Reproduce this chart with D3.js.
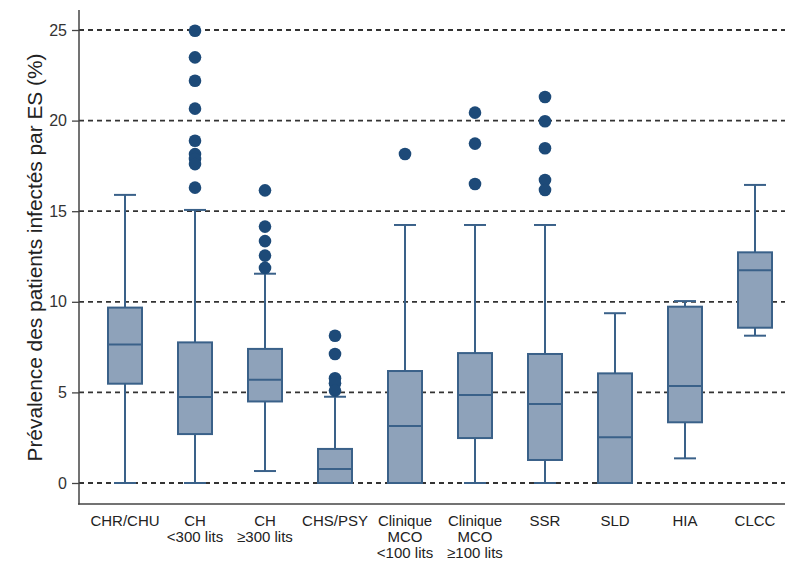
<!DOCTYPE html>
<html><head><meta charset="utf-8">
<script src="https://cdn.jsdelivr.net/npm/d3@7"></script>
<style>body{margin:0;background:#fff}svg{display:block;font-family:"Liberation Sans",Arial,sans-serif}</style>
</head><body><svg id="c" width="785" height="561"></svg>
<script>
const categories = ["CHR/CHU","CH\n<300 lits","CH\n≥300 lits","CHS/PSY","Clinique\nMCO\n<100 lits","Clinique\nMCO\n≥100 lits","SSR","SLD","HIA","CLCC"];
const whiskerLow = [0, 0, 0.66, 0, 0, 0, 0, 0, 1.36, 8.13];
const q1 =        [5.48, 2.7, 4.5, 0, 0, 2.48, 1.27, 0, 3.35, 8.57];
const median =    [7.65, 4.75, 5.7, 0.77, 3.15, 4.86, 4.36, 2.52, 5.35, 11.74];
const q3 =        [9.68, 7.76, 7.4, 1.88, 6.18, 7.17, 7.12, 6.05, 9.73, 12.73];
const whiskerHigh = [15.9, 15.07, 11.55, 4.76, 14.24, 14.24, 14.24, 9.37, 10.04, 16.45];
const outliers = [
  [],
  [24.96, 23.49, 22.2, 20.66, 18.89, 18.15, 17.88, 17.6, 16.3],
  [16.15, 14.15, 13.35, 12.55, 11.87],
  [8.13, 7.12, 5.78, 5.5, 5.1],
  [18.16],
  [20.44, 18.73, 16.5],
  [21.3, 19.96, 18.47, 16.72, 16.17],
  [], [], []
];
const yTicks = [0, 5, 10, 15, 20, 25];

const svg = d3.select("#c");
const x = d3.scaleBand().domain(categories).range([90, 790]);
const y = d3.scaleLinear().domain([0, 25]).range([483, 30]);
const boxW = 34, capW = 22;
const stroke = "#3a6189", fill = "#8ea2ba", dot = "#1d4a78";

// gridlines
svg.append("g").selectAll("line").data(yTicks).join("line")
  .attr("x1", 79).attr("x2", 785)
  .attr("y1", d => y(d)).attr("y2", d => y(d))
  .attr("stroke", "#333").attr("stroke-width", 1.8).attr("stroke-dasharray", "5,4");

// axes
const yAxis = svg.append("g").attr("transform", "translate(79,0)")
  .call(d3.axisLeft(y).tickValues(yTicks).tickSize(7).tickPadding(5));
yAxis.select(".domain").remove();
yAxis.selectAll("line").attr("stroke", "#444").attr("stroke-width", 1.3);
yAxis.selectAll("text").attr("font-size", 16).attr("fill", "#333").attr("font-family", "Liberation Sans, Arial, sans-serif");
svg.append("line").attr("x1", 79).attr("x2", 79).attr("y1", 10).attr("y2", 504.5).attr("stroke", "#444").attr("stroke-width", 1.5);
svg.append("line").attr("x1", 78).attr("x2", 785).attr("y1", 504).attr("y2", 504).attr("stroke", "#444").attr("stroke-width", 1.5);

// y title
svg.append("text").attr("transform", "translate(42,257.5) rotate(-90)")
  .attr("text-anchor", "middle").attr("font-size", 21).attr("fill", "#222")
  .attr("textLength", 408).attr("lengthAdjust", "spacingAndGlyphs")
  .text("Prévalence des patients infectés par ES (%)");

// x labels
const xl = svg.append("g").selectAll("text").data(categories).join("text")
  .attr("x", d => x(d) + x.bandwidth() / 2).attr("y", 526)
  .attr("text-anchor", "middle").attr("font-size", 15).attr("fill", "#222");
xl.selectAll("tspan").data(d => d.split("\n")).join("tspan")
  .attr("x", function() { return d3.select(this.parentNode).attr("x"); })
  .attr("dy", (d, i) => i === 0 ? 0 : 16).text(d => d);

// boxes
const g = svg.append("g").selectAll("g").data(categories).join("g")
  .attr("transform", d => `translate(${x(d) + x.bandwidth() / 2},0)`);
g.append("line").attr("x1", 0).attr("x2", 0)
  .attr("y1", (d, i) => y(whiskerHigh[i])).attr("y2", (d, i) => y(q3[i]))
  .attr("stroke", stroke).attr("stroke-width", 2);
g.append("line").attr("x1", 0).attr("x2", 0)
  .attr("y1", (d, i) => y(q1[i])).attr("y2", (d, i) => y(whiskerLow[i]))
  .attr("stroke", stroke).attr("stroke-width", 2);
g.append("line").attr("x1", -capW / 2).attr("x2", capW / 2)
  .attr("y1", (d, i) => y(whiskerHigh[i])).attr("y2", (d, i) => y(whiskerHigh[i]))
  .attr("stroke", stroke).attr("stroke-width", 2);
g.append("line").attr("x1", -capW / 2).attr("x2", capW / 2)
  .attr("y1", (d, i) => y(whiskerLow[i])).attr("y2", (d, i) => y(whiskerLow[i]))
  .attr("stroke", stroke).attr("stroke-width", 2);
g.append("rect").attr("x", -boxW / 2).attr("width", boxW)
  .attr("y", (d, i) => y(q3[i])).attr("height", (d, i) => y(q1[i]) - y(q3[i]))
  .attr("fill", fill).attr("stroke", stroke).attr("stroke-width", 2);
g.append("line").attr("x1", -boxW / 2).attr("x2", boxW / 2)
  .attr("y1", (d, i) => y(median[i])).attr("y2", (d, i) => y(median[i]))
  .attr("stroke", stroke).attr("stroke-width", 2);
g.each(function(d, i) {
  d3.select(this).selectAll("circle").data(outliers[i]).join("circle")
    .attr("cx", 0).attr("cy", v => y(v)).attr("r", 6.3).attr("fill", dot);
});
</script></body></html>
